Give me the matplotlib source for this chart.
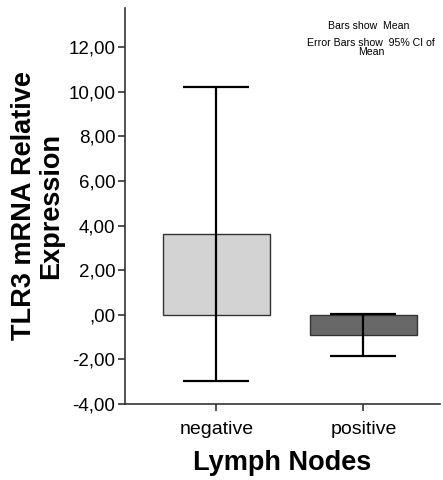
import matplotlib
matplotlib.use("Agg")
import matplotlib.pyplot as plt

categories = ["negative", "positive"]
means = [3.63, -0.90]
ci_low = [-2.96, -1.84]
ci_high = [10.22, 0.03]
bar_colors = ["#d3d3d3", "#686868"]
yticks = [-4, -2, 0, 2, 4, 6, 8, 10, 12]
ytick_labels = ["-4,00", "-2,00", ",00", "2,00", "4,00", "6,00", "8,00", "10,00", "12,00"]

plt.rcParams['font.family'] = ['Liberation Sans', 'DejaVu Sans']

fig = plt.figure(figsize=(4.43, 4.8), dpi=100)
ax = fig.add_axes([125/443, 76/480, 315/443, 396/480])

x = list(range(len(categories)))
ax.bar(x, means, width=0.73, color=bar_colors, edgecolor="#333333", linewidth=1.0, zorder=2)
lower = [m - l for m, l in zip(means, ci_low)]
upper = [h - m for m, h in zip(means, ci_high)]
ax.errorbar(x, means, yerr=[lower, upper], fmt="none", ecolor="black",
            elinewidth=1.6, capsize=23.5, capthick=1.6, zorder=3)

ax.set_xlim(-0.62, 1.52)
ax.set_ylim(-4, 13.75)
ax.set_yticks(yticks)
ax.set_yticklabels(ytick_labels, fontsize=13.5)
ax.set_xticks(x)
ax.set_xticklabels(categories, fontsize=14)
ax.tick_params(axis="y", direction="out", length=5, width=1.2, color="#333333", pad=2)
ax.tick_params(axis="x", direction="out", length=5, width=1.2, color="#333333", pad=7)
for s in ["top", "right"]:
    ax.spines[s].set_visible(False)
for s in ["left", "bottom"]:
    ax.spines[s].set_linewidth(1.2)
    ax.spines[s].set_color("#333333")

ax.set_ylabel("TLR3 mRNA Relative\nExpression", fontsize=19.5, fontweight="bold",
              linespacing=1.05, labelpad=3)
ax.set_xlabel("Lymph Nodes", fontsize=19.5, fontweight="bold", labelpad=9)

fig.text(369/443, 1 - 26/480, "Bars show  Mean", fontsize=7.6, ha="center", va="center")
fig.text(371/443, 1 - 47.5/480, "Error Bars show  95% CI of\nMean", fontsize=7.6,
         ha="center", va="center", linespacing=0.95)

fig.savefig("out.png", dpi=100)
